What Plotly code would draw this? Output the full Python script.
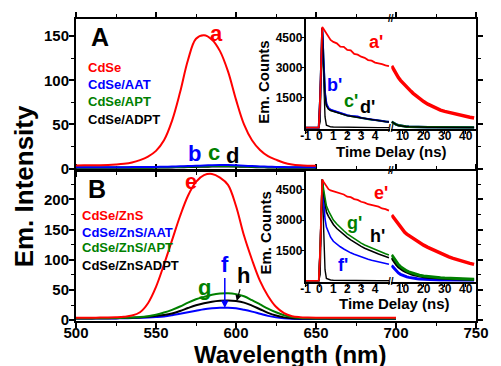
import plotly.graph_objects as go

# ---------------- data: emission spectra ----------------
lam_A = [500, 505, 510, 515, 520, 525, 530, 535, 540, 545, 550, 555, 560, 565, 570, 575,
         580, 585, 590, 595, 600, 605, 610, 615, 620, 625, 630, 635, 640, 645, 650]
cdse = [3.5, 3.6, 3.7, 3.8, 4.0, 4.5, 5.3, 6.8, 9.5, 13.5, 20, 32, 54, 86, 123, 147,
        151, 146, 133, 110, 78, 50, 32, 21, 14, 10, 6.5, 4.5, 3.6, 3.2, 3.0]
cdse_aat = [1.5, 1.5, 1.5, 1.5, 1.5, 1.5, 1.5, 1.6, 1.6, 1.7, 1.8, 2.0, 2.2, 2.5, 2.8, 3.1,
            3.4, 3.7, 3.9, 3.9, 3.6, 3.2, 2.7, 2.3, 2.0, 1.8, 1.6, 1.5, 1.5, 1.5, 1.5]
cdse_apt = [1.0, 1.0, 1.0, 1.0, 1.0, 1.0, 1.0, 1.1, 1.1, 1.2, 1.3, 1.4, 1.6, 1.8, 2.0, 2.3,
            2.5, 2.7, 2.8, 2.8, 2.6, 2.3, 2.0, 1.7, 1.5, 1.3, 1.2, 1.1, 1.0, 1.0, 1.0]
cdse_adpt = [0.8, 0.8, 0.8, 0.8, 0.8, 0.8, 0.8, 0.8, 0.9, 0.9, 1.0, 1.1, 1.2, 1.4, 1.6, 1.8,
             2.0, 2.2, 2.3, 2.3, 2.2, 2.0, 1.7, 1.4, 1.2, 1.0, 0.9, 0.9, 0.8, 0.8, 0.8]

lam_B = [500, 505, 510, 515, 520, 525, 530, 535, 540, 545, 550, 555, 560, 565, 570, 575,
         580, 585, 590, 595, 600, 605, 610, 615, 620, 625, 630, 635, 640, 645, 650, 655,
         660, 665, 670, 675, 680, 685, 690, 695, 700]
zns = [4.0, 4.0, 4.0, 4.1, 4.3, 4.7, 5.5, 7.5, 13, 28, 55, 92, 132, 172, 206, 229,
       240, 242, 236, 224, 189, 140, 100, 65, 40, 22, 11.5, 6.5, 4.8, 4.2, 4.0, 4.0,
       3.9, 3.9, 3.9, 3.8, 3.8, 3.8, 3.8, 3.8, 3.8]
zns_aat = [2.5, 2.5, 2.5, 2.6, 2.6, 2.8, 3.0, 3.3, 3.8, 4.3, 5.0, 6.0, 8.0, 10.5, 13, 15.5,
           18, 19.5, 20.5, 20.5, 19.5, 17, 14, 10.5, 7, 4.5, 3.0, 2.3, 2.0, 2.0, 2.0, 2.0,
           2.0, 2.0, 2.0, 2.0, 2.0, 2.0, 2.0, 2.0, 2.0]
zns_apt = [3.0, 3.0, 3.0, 3.1, 3.2, 3.5, 3.8, 4.3, 5.0, 6.5, 9.0, 12.5, 17, 22.5, 29, 34.5,
           38.5, 42, 44, 44.5, 43, 39.5, 33, 26, 19, 13, 8, 5, 3.5, 3.0, 2.8, 2.8,
           2.8, 2.8, 2.8, 2.8, 2.8, 2.8, 2.8, 2.8, 2.8]
zns_adpt = [2.8, 2.8, 2.8, 2.9, 3.0, 3.2, 3.5, 4.0, 4.5, 5.5, 7.0, 8.5, 11, 15, 20, 24.5,
            28, 30.5, 32, 32.5, 31.5, 29, 24, 18, 12, 7.5, 4.5, 3.0, 2.6, 2.5, 2.5, 2.5,
            2.5, 2.5, 2.5, 2.5, 2.5, 2.5, 2.5, 2.5, 2.5]

wl_ticks = [500, 550, 600, 650, 700, 750]
intA_ticks = [0, 50, 100, 150]
intB_ticks = [0, 50, 100, 150, 200]

# ---------------- data: decays (insets) ----------------
t_left = [-1.0, -0.5, -0.05, 0.05, 0.12, 0.2, 0.3, 0.4, 0.5, 0.65, 0.8, 1.0, 1.25, 1.5,
          1.75, 2.0, 2.25, 2.5, 2.75, 3.0, 3.25, 3.5, 3.75, 4.0, 4.25, 4.5, 4.75, 5.0]
t_right = [4.8, 6, 7, 8, 9, 10, 11, 12, 13, 14, 15, 16, 17, 18, 20, 22, 24, 26, 28, 30,
           32, 34, 36, 38, 40, 42, 44]
t_left_ticks = [-1, 0, 1, 2, 3, 4]
t_right_ticks = [10, 20, 30, 40]
count_ticks = [1500, 3000, 4500]

irf = [0, 0, 0, 300, 2500, 5000, 2600, 550, 120, 60, 40, 30, 25, 20,
       15, 12, 10, 8, 6, 5, 4, 3, 2, 1, 0, 0, 0, 0]

a_left = [0, 0, 0, 1500, 3500, 5050, 4950, 4850, 4700, 4560, 4400, 4300, 4230, 4060,
          4050, 3900, 3880, 3700, 3660, 3560, 3500, 3390, 3360, 3260, 3230, 3180, 3120, 3080]
a_right = [3100, 2850, 2680, 2510, 2370, 2250, 2130, 2010, 1910, 1820, 1720, 1630, 1545, 1460,
           1310, 1180, 1070, 965, 880, 815, 760, 700, 650, 610, 565, 520, 480]
b_left = [0, 0, 0, 1500, 3500, 5000, 3300, 1750, 1200, 980, 900, 850, 790, 710,
          660, 620, 590, 560, 560, 490, 460, 440, 410, 390, 360, 340, 310, 290]
c_left = [0, 0, 0, 1500, 3500, 5000, 3200, 1650, 1150, 950, 880, 830, 770, 700,
          650, 610, 580, 545, 520, 480, 455, 430, 400, 380, 355, 335, 305, 285]
d_left = [0, 0, 0, 1500, 3500, 5000, 3100, 1600, 1100, 930, 860, 810, 760, 690,
          640, 600, 570, 540, 510, 475, 450, 425, 395, 375, 350, 330, 300, 280]
b_right = [295, 205, 155, 118, 92, 74, 62, 52, 44, 38, 33, 29, 26, 24,
           21, 18, 16, 15, 14, 13, 12, 12, 11, 11, 10, 10, 10]
c_right = [290, 200, 150, 115, 90, 72, 60, 50, 42, 36, 32, 28, 25, 23,
           20, 17, 15, 14, 13, 12, 11, 11, 10, 10, 10, 10, 10]
d_right = [285, 195, 148, 112, 88, 70, 58, 48, 41, 35, 31, 27, 24, 22,
           19, 16, 15, 14, 13, 12, 11, 11, 10, 10, 10, 10, 10]

e_left = [0, 0, 0, 1500, 3500, 5000, 4880, 4760, 4640, 4520, 4460, 4420, 4370, 4300,
          4260, 4150, 4130, 4030, 3990, 3900, 3860, 3780, 3740, 3680, 3660, 3570, 3540, 3460]
e_right = [3250, 3080, 2900, 2760, 2620, 2500, 2390, 2300, 2230, 2160, 2080, 2000, 1940, 1880,
           1760, 1650, 1550, 1440, 1340, 1260, 1180, 1110, 1040, 980, 920, 860, 810]
f_left = [0, 0, 0, 1500, 3500, 5000, 4000, 3050, 2650, 2350, 2150, 1950, 1800, 1680,
          1570, 1460, 1380, 1310, 1240, 1180, 1120, 1060, 1010, 970, 930, 890, 850, 820]
f_right = [760, 600, 480, 390, 320, 270, 230, 195, 170, 145, 125, 110, 100, 90,
           75, 62, 55, 48, 44, 40, 37, 35, 33, 32, 30, 30, 30]
g_left = [0, 0, 0, 1500, 3500, 5000, 4500, 4000, 3700, 3450, 3250, 3000, 2800, 2620,
          2470, 2320, 2200, 2070, 1960, 1860, 1770, 1690, 1610, 1530, 1460, 1390, 1330, 1270]
g_right = [1280, 1080, 930, 800, 700, 620, 550, 490, 440, 400, 360, 330, 300, 275,
           240, 210, 185, 165, 150, 135, 122, 110, 100, 92, 85, 80, 75]
h_left = [0, 0, 0, 1500, 3500, 5000, 4300, 3700, 3400, 3180, 3000, 2780, 2580, 2420,
          2270, 2140, 2020, 1900, 1800, 1700, 1610, 1530, 1460, 1390, 1320, 1260, 1200, 1140]
h_right = [1130, 930, 790, 680, 590, 520, 460, 410, 365, 330, 300, 270, 245, 225,
           190, 165, 145, 130, 118, 105, 96, 88, 80, 75, 70, 65, 60]

RED, BLUE, GREEN, BLACK = "#ff0000", "#0000ff", "#008000", "#000000"
FONT = "Liberation Sans, Arial, sans-serif"


def bold(vals):
    return ["<b>%s</b>" % v for v in vals]


fig = go.Figure()


def spec(x, y, color, xa, ya):
    fig.add_trace(go.Scatter(x=x, y=y, mode="lines", line=dict(color=color, width=2, shape="spline"),
                             xaxis=xa, yaxis=ya, showlegend=False, hoverinfo="skip"))


# Panel A (top)
spec(lam_A, cdse_adpt, BLACK, "x2", "y2")
spec(lam_A, cdse_apt, GREEN, "x2", "y2")
spec(lam_A, cdse_aat, BLUE, "x2", "y2")
spec(lam_A, cdse, RED, "x2", "y2")
# Panel B (bottom)
spec(lam_B, zns_aat, BLUE, "x", "y")
spec(lam_B, zns_adpt, BLACK, "x", "y")
spec(lam_B, zns_apt, GREEN, "x", "y")
spec(lam_B, zns, RED, "x", "y")


def dec(x, y, color, xa, ya, w=1.6):
    fig.add_trace(go.Scatter(x=x, y=y, mode="lines", line=dict(color=color, width=w),
                             xaxis=xa, yaxis=ya, showlegend=False, hoverinfo="skip"))


# inset A
dec(t_left, irf, BLACK, "x3", "y3", 1.4)
dec(t_left, c_left, GREEN, "x3", "y3", 2)
dec(t_left, b_left, BLUE, "x3", "y3", 2)
dec(t_left, d_left, BLACK, "x3", "y3", 1.4)
dec(t_left, a_left, RED, "x3", "y3", 1.8)
dec(t_right, b_right, BLUE, "x4", "y4", 2.5)
dec(t_right, c_right, GREEN, "x4", "y4", 2.5)
dec(t_right, d_right, BLACK, "x4", "y4", 1.5)
dec(t_right, a_right, RED, "x4", "y4", 3.5)
# inset B
dec(t_left, irf, BLACK, "x5", "y5", 1.4)
dec(t_left, f_left, BLUE, "x5", "y5")
dec(t_left, h_left, BLACK, "x5", "y5")
dec(t_left, g_left, GREEN, "x5", "y5")
dec(t_left, e_left, RED, "x5", "y5", 1.8)
dec(t_right, f_right, BLUE, "x6", "y6", 3)
dec(t_right, h_right, BLACK, "x6", "y6", 2.5)
dec(t_right, g_right, GREEN, "x6", "y6", 3)
dec(t_right, e_right, RED, "x6", "y6", 3.5)

# ---------------- layout ----------------
L, R, T, B = 76, 12, 13, 45
W, H = 501, 366
PW, PH = W - L - R, H - T - B


def px(x):
    return (x - L) / PW


def py(y):
    return (H - B - y) / PH


main_tick = dict(ticks="outside", ticklen=5, tickwidth=1.5, tickcolor="black", showline=True,
                 linewidth=2, linecolor="black", mirror="ticks", showgrid=False, zeroline=False,
                 tickmode="array",
                 tickfont=dict(family=FONT, size=15, color="black"))
minor_x = dict(ticks="outside", ticklen=3, tickwidth=1.2, tick0=500, dtick=25, tickcolor="black")
minor_y = dict(ticks="outside", ticklen=3, tickwidth=1.2, tick0=0, dtick=25, tickcolor="black")
ins_tick = dict(ticks="outside", ticklen=3, tickwidth=1.2, tickcolor="black", showline=True,
                linewidth=1.5, linecolor="black", showgrid=False, zeroline=False, tickmode="array",
                tickfont=dict(family=FONT, size=12, color="black"))

yA_dom = [py(125), 1.0]
yB_dom = [py(281), py(168)]
xl_dom = [px(313), px(400)]
xr_dom = [px(401.5), 1.0]

fig.update_layout(
    width=W, height=H, margin=dict(l=L, r=R, t=T, b=B),
    paper_bgcolor="white", plot_bgcolor="white", showlegend=False,
    font=dict(family=FONT, color="black"),
    xaxis=dict(domain=[0, 1], anchor="y", range=[500, 750], tickvals=wl_ticks, ticktext=bold(wl_ticks),
               minor=minor_x, ticklabelstandoff=-8, **main_tick),
    xaxis2=dict(domain=[0, 1], anchor="y2", range=[500, 750], tickvals=wl_ticks, minor=minor_x,
                matches="x", showticklabels=False, **main_tick),
    yaxis=dict(domain=[0, py(168)], anchor="x", range=[-1.5, 247], tickvals=intB_ticks,
               ticktext=bold(intB_ticks), minor=minor_y, ticklabelstandoff=-3, **main_tick),
    yaxis2=dict(domain=[py(167), 1], anchor="x2", range=[-1.7, 169.4], tickvals=intA_ticks,
                ticktext=bold(intA_ticks), minor=minor_y, ticklabelstandoff=-3, **main_tick),
    xaxis3=dict(domain=xl_dom, anchor="y3", range=[-1, 5.06], tickvals=t_left_ticks,
                ticktext=bold(t_left_ticks), mirror=True, ticklabelstandoff=-8, **ins_tick),
    xaxis4=dict(domain=xr_dom, anchor="y4", range=[4.6, 44.9], tickvals=t_right_ticks,
                ticktext=bold(t_right_ticks), mirror=True, ticklabelstandoff=-8, **ins_tick),
    yaxis3=dict(domain=yA_dom, anchor="x3", range=[-59, 5449], tickvals=count_ticks,
                ticktext=bold(count_ticks), side="left", ticklabelstandoff=-4, **ins_tick),
    yaxis4=dict(domain=yA_dom, anchor="x4", range=[-59, 5449], side="right", showline=True,
                linewidth=1.5, linecolor="black", showticklabels=False, ticks="",
                showgrid=False, zeroline=False),
    xaxis5=dict(domain=xl_dom, anchor="y5", range=[-1, 5.06], tickvals=t_left_ticks,
                ticktext=bold(t_left_ticks), mirror=True, ticklabelstandoff=-8, **ins_tick),
    xaxis6=dict(domain=xr_dom, anchor="y6", range=[4.6, 44.9], tickvals=t_right_ticks,
                ticktext=bold(t_right_ticks), mirror=True, ticklabelstandoff=-8, **ins_tick),
    yaxis5=dict(domain=yB_dom, anchor="x5", range=[-48, 5419], tickvals=count_ticks,
                ticktext=bold(count_ticks), side="left", ticklabelstandoff=-4, **ins_tick),
    yaxis6=dict(domain=yB_dom, anchor="x6", range=[-48, 5419], side="right", showline=True,
                linewidth=1.5, linecolor="black", showticklabels=False, ticks="",
                showgrid=False, zeroline=False),
)

ann = []


def txt(text, x, y, size, color=BLACK, angle=0, xanchor="center"):
    ann.append(dict(text="<b>%s</b>" % text, x=px(x), y=py(y), xref="paper", yref="paper",
                    showarrow=False, xanchor=xanchor, yanchor="middle", textangle=angle,
                    font=dict(family=FONT, size=size, color=color)))


# axis titles
txt("Em. Intensity", 22, 184, 26, angle=-90)
txt("Wavelength (nm)", 297, 355, 24)
txt("Time Delay (ns)", 402, 148, 15)
txt("Time Delay (ns)", 405, 303, 15)
txt("Em. Counts", 270, 77, 15, angle=-90)
txt("Em. Counts", 272, 231, 15, angle=-90)

# panel letters
txt("A", 101, 31, 25)
txt("B", 97.5, 186, 25)

# legends
for label, color, y in [("CdSe", RED, 62.5), ("CdSe/AAT", BLUE, 80), ("CdSe/APT", GREEN, 97.5),
                        ("CdSe/ADPT", BLACK, 115)]:
    txt(label, 86, y, 13, color, xanchor="left")
for label, color, y in [("CdSe/ZnS", RED, 213.3), ("CdSe/ZnS/AAT", BLUE, 230.5),
                        ("CdSe/ZnS/APT", GREEN, 246), ("CdSe/ZnSADPT", BLACK, 264)]:
    txt(label, 80.5, y, 13, color, xanchor="left")

# curve letters
txt("a", 221, 28, 22, RED)
txt("b", 198.3, 150, 22, BLUE)
txt("c", 218, 149, 22, GREEN)
txt("d", 238, 152, 22, BLACK)
txt("e", 195, 179, 22, RED)
txt("g", 209, 287, 22, GREEN)

# f and h with arrows
ann.append(dict(text="<b>f</b>", x=593, y=20, xref="x", yref="y", ax=0, ay=-44, axref="pixel",
                ayref="pixel", showarrow=True, arrowhead=2, arrowsize=1, arrowwidth=1.5,
                arrowcolor=BLUE, font=dict(family=FONT, size=22, color=BLUE)))
ann.append(dict(text="<b>h</b>", x=600.5, y=31.5, xref="x", yref="y", ax=7, ay=-26, axref="pixel",
                ayref="pixel", showarrow=True, arrowhead=2, arrowsize=1, arrowwidth=1.2,
                arrowcolor=BLACK, font=dict(family=FONT, size=22, color=BLACK)))

# inset letters
txt("a'", 385.3, 36, 18, RED)
txt("b'", 343, 80.5, 18, BLUE)
txt("c'", 360, 97, 18, GREEN)
txt("d'", 376.7, 103, 18, BLACK)
txt("e'", 391, 190, 18, RED)
txt("g'", 364, 221, 18, GREEN)
txt("h'", 387, 234, 18, BLACK)
txt("f'", 351.7, 264, 18, BLUE)

# axis break marks
for yb in [12, 125, 167, 281]:
    txt("//", 400.8, yb, 10)

fig.update_layout(annotations=ann)
fig.write_html("out.html")
